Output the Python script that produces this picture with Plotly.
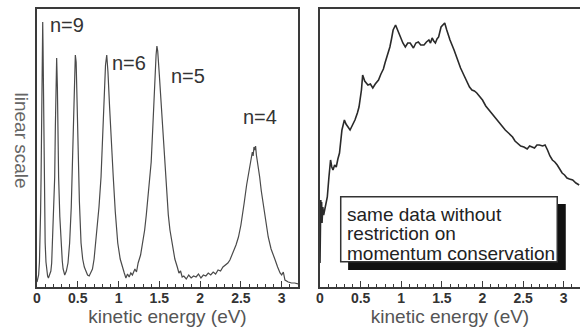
import plotly.graph_objects as go

# ---------------- data ----------------
# left panel: spectrum restricted to momentum conservation (arbitrary linear units)
left_energy = [0.00, 0.01, 0.02, 0.03, 0.037, 0.044, 0.05, 0.056, 0.062, 0.07, 0.074, 0.078, 0.084, 0.09,
               0.10, 0.11, 0.12, 0.13, 0.14, 0.15, 0.16, 0.17, 0.18, 0.19, 0.20, 0.21, 0.217, 0.225, 0.233,
               0.241, 0.25, 0.258, 0.265, 0.28, 0.295, 0.31, 0.32, 0.33, 0.34, 0.35, 0.36, 0.38, 0.40, 0.42,
               0.43, 0.44, 0.45, 0.46, 0.47, 0.48, 0.49, 0.50, 0.51, 0.52, 0.54, 0.56, 0.58, 0.60, 0.62, 0.64,
               0.66, 0.68, 0.70, 0.72, 0.74, 0.76, 0.785, 0.80, 0.82, 0.84, 0.855, 0.87, 0.89, 0.91, 0.935,
               0.96, 0.99, 1.02, 1.05, 1.07, 1.09, 1.11, 1.13, 1.15, 1.17, 1.20, 1.22, 1.24, 1.27, 1.30, 1.32,
               1.34, 1.36, 1.38, 1.40, 1.42, 1.44, 1.46, 1.47, 1.48, 1.50, 1.52, 1.54, 1.56, 1.57, 1.59, 1.61,
               1.63, 1.66, 1.69, 1.72, 1.74, 1.76, 1.78, 1.80, 1.83, 1.86, 1.89, 1.92, 1.95, 1.98, 2.01, 2.04,
               2.07, 2.10, 2.13, 2.16, 2.19, 2.22, 2.25, 2.28, 2.31, 2.34, 2.365, 2.40, 2.42, 2.44, 2.47, 2.50,
               2.52, 2.54, 2.57, 2.60, 2.62, 2.64, 2.65, 2.66, 2.67, 2.68, 2.69, 2.71, 2.73, 2.75, 2.77, 2.80,
               2.835, 2.87, 2.90, 2.92, 2.95, 2.98, 3.00, 3.02, 3.04, 3.08, 3.12, 3.16, 3.20]
left_counts = [5, 8, 12, 25, 44, 75, 110, 165, 225, 265, 240, 200, 150, 110,
               44, 25, 16, 11, 9, 12, 13, 16, 24, 44, 65, 90, 110, 160, 210,
               229, 200, 150, 110, 70, 44, 26, 18, 13, 12, 14, 16, 24, 44, 80,
               110, 145, 185, 215, 232, 225, 190, 150, 110, 85, 44, 28, 20, 15, 12, 11,
               15, 18, 28, 44, 60, 80, 110, 140, 180, 222, 232, 215, 180, 145, 110,
               75, 44, 28, 18, 14, 9, 13, 10, 14, 12, 18, 15, 24, 32, 45, 57,
               72, 90, 105, 125, 160, 200, 232, 241, 236, 212, 185, 160, 138, 125, 95, 72,
               57, 40, 28, 20, 14, 16, 10, 11, 8, 12, 9, 11, 10, 13, 9, 12,
               11, 14, 12, 15, 13, 17, 16, 20, 22, 24, 27, 33, 38, 42, 50, 62,
               72, 84, 102, 118, 128, 135, 131, 140, 137, 141, 132, 122, 110, 96, 84, 68,
               50, 38, 30, 27, 20, 14, 12, 15, 7, 5, 4, 4, 3]

# right panel: same data without restriction on momentum conservation
right_energy = [0.000, 0.003, 0.010, 0.015, 0.020, 0.025, 0.035, 0.045, 0.058, 0.07, 0.09, 0.11, 0.13, 0.145,
                0.16, 0.18, 0.20, 0.22, 0.24, 0.27, 0.30, 0.32, 0.34, 0.37, 0.40, 0.43, 0.46, 0.48, 0.51,
                0.525, 0.55, 0.59, 0.62, 0.65, 0.68, 0.72, 0.75, 0.78, 0.80, 0.83, 0.86, 0.88, 0.90, 0.93,
                0.95, 0.985, 1.00, 1.02, 1.05, 1.08, 1.11, 1.13, 1.15, 1.18, 1.21, 1.24, 1.28, 1.31, 1.34,
                1.36, 1.38, 1.40, 1.42, 1.44, 1.46, 1.49, 1.51, 1.535, 1.56, 1.60, 1.65, 1.69, 1.73, 1.77,
                1.81, 1.84, 1.87, 1.90, 1.93, 1.97, 2.00, 2.04, 2.07, 2.10, 2.12, 2.16, 2.20, 2.24, 2.28,
                2.32, 2.37, 2.40, 2.43, 2.47, 2.51, 2.55, 2.58, 2.61, 2.64, 2.67, 2.70, 2.74, 2.77, 2.80,
                2.83, 2.86, 2.89, 2.92, 2.95, 2.98, 3.01, 3.04, 3.07, 3.11, 3.15, 3.19]
right_counts = [24, 64, 87, 66, 85, 64, 80, 72, 77, 84, 90, 110, 127, 120,
                117, 122, 120, 128, 134, 157, 167, 163, 160, 157, 162, 167, 174, 180, 197,
                212, 206, 202, 203, 199, 203, 207, 213, 218, 224, 231, 240, 248, 257, 262,
                258, 250, 247, 244, 240, 244, 244, 241, 239, 244, 245, 242, 242, 245, 247,
                244, 249, 246, 244, 248, 250, 260, 262, 264, 257, 247, 237, 227, 219, 212,
                205, 200, 197, 196, 194, 190, 187, 181, 178, 174, 172, 168, 164, 161, 157,
                154, 150, 146, 144, 141, 140, 138, 141, 140, 139, 142, 142, 141, 142, 137,
                131, 127, 125, 122, 118, 114, 112, 109, 108, 107, 104, 102]

tick_values = [0, 0.5, 1, 1.5, 2, 2.5, 3]
tick_labels = ["0", "0.5", "1", "1.5", "2", "2.5", "3"]
peak_labels = ["n=9", "n=6", "n=5", "n=4"]
peak_label_x = [0.14, 0.90, 1.62, 2.50]
peak_label_y = [262, 224, 211, 170]
box_lines = ["same data without", "restriction on", "momentum conservation"]

# ---------------- figure ----------------
W, H = 580, 330
FONT = "Liberation Sans, Arial, Helvetica, sans-serif"
TICKFONT = "Liberation Sans Narrow, Arial Narrow, Liberation Sans, Arial, sans-serif"
FRAME = "#3a3a3a"

fig = go.Figure()
fig.add_trace(go.Scatter(x=left_energy, y=left_counts, mode="lines",
                         line=dict(color="#4a4a4a", width=1.2), xaxis="x", yaxis="y",
                         showlegend=False, hoverinfo="skip"))
fig.add_trace(go.Scatter(x=right_energy, y=right_counts, mode="lines",
                         line=dict(color="#2a2a2a", width=1.6), xaxis="x2", yaxis="y2",
                         showlegend=False, hoverinfo="skip"))

xcommon = dict(range=[0, 3.2], tickmode="array", tickvals=tick_values,
               ticktext=["<b>%s</b>" % t for t in tick_labels],
               ticks="inside", ticklen=6, tickwidth=1.2, tickcolor=FRAME,
               minor=dict(dtick=0.1, tick0=0, ticks="inside", ticklen=3, tickwidth=1, tickcolor=FRAME),
               showline=True, linecolor=FRAME, linewidth=2, showgrid=False, zeroline=False,
               tickfont=dict(family=TICKFONT, size=14, color="#333333"),
               ticklabelstandoff=-3,
               title=dict(text="kinetic energy (eV)", font=dict(family=FONT, size=19, color="#555555"),
                          standoff=0),
               automargin=False, fixedrange=True)
ycommon = dict(range=[0, 278], showticklabels=False, ticks="", showgrid=False, zeroline=False,
               showline=True, linecolor=FRAME, linewidth=2, automargin=False, fixedrange=True)

fig.update_layout(
    width=W, height=H, margin=dict(l=0, r=0, t=9, b=43, autoexpand=False),
    paper_bgcolor="white", plot_bgcolor="white",
    xaxis=dict(domain=[37 / W, 298 / W], anchor="y", mirror=True, **xcommon),
    yaxis=dict(domain=[0, 1], anchor="x", mirror=True, **ycommon),
    xaxis2=dict(domain=[320 / W, 1.0], anchor="y2", mirror=True, **xcommon),
    yaxis2=dict(domain=[0, 1], anchor="x2", mirror=False, **ycommon),
)

# y-axis title of the left panel (reads downward)
fig.add_annotation(x=9 / W, y=(287 - 140) / 278, xref="paper", yref="paper",
                   text="linear scale", textangle=90, showarrow=False,
                   font=dict(family=FONT, size=19, color="#666666"))

# peak labels
for t, px, py in zip(peak_labels, peak_label_x, peak_label_y):
    fig.add_annotation(x=px, y=py, xref="x", yref="y", text=t, showarrow=False, xanchor="left",
                       font=dict(family=FONT, size=20, color="#333333"))

# framed note with drop shadow in the right panel
fig.add_shape(type="rect", xref="x2", yref="y2", x0=0.346, x1=3.025, y0=17, y1=83,
              fillcolor="#111111", line=dict(width=0), layer="above")
fig.add_shape(type="rect", xref="x2", yref="y2", x0=0.255, x1=2.92, y0=25.3, y1=90.3,
              fillcolor="white", line=dict(color="#333333", width=1.5), layer="above")
for i, t in enumerate(box_lines):
    fig.add_annotation(x=0.31, y=73 - i * 19.5, xref="x2", yref="y2", text=t, showarrow=False,
                       xanchor="left", yanchor="middle",
                       font=dict(family=FONT, size=19, color="#222222"))

fig.write_html("out.html", config={"displayModeBar": False},
               post_script="document.body.style.margin='0';document.body.style.overflow='hidden';")
